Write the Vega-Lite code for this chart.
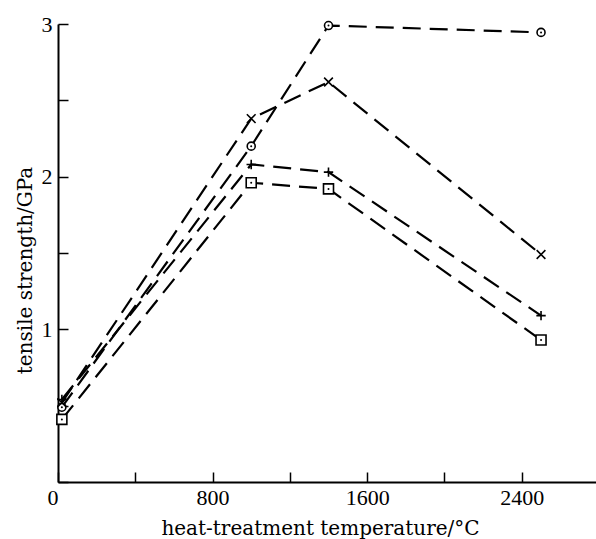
{
  "$schema": "https://vega.github.io/schema/vega-lite/v6.json",
  "autosize": "none",
  "padding": {"left": 58, "top": 24, "right": 0, "bottom": 57},
  "width": 541,
  "height": 458,
  "background": "white",
  "config": {
    "view": {"stroke": null},
    "font": "Liberation Serif",
    "axis": {
      "grid": false,
      "domainColor": "black",
      "domainWidth": 2,
      "tickColor": "black",
      "tickWidth": 1.5,
      "tickSize": -10,
      "labelFont": "Liberation Serif",
      "labelFontSize": 22,
      "labelColor": "black",
      "titleFont": "DejaVu Serif",
      "titleFontSize": 20,
      "titleFontWeight": "normal",
      "titleColor": "black"
    }
  },
  "data": {
    "values": [
      {"series": "circle", "T": 20, "S": 0.49},
      {"series": "circle", "T": 1000, "S": 2.2},
      {"series": "circle", "T": 1400, "S": 2.99},
      {"series": "circle", "T": 2500, "S": 2.945},
      {"series": "cross", "T": 20, "S": 0.52},
      {"series": "cross", "T": 1000, "S": 2.38},
      {"series": "cross", "T": 1400, "S": 2.62},
      {"series": "cross", "T": 2500, "S": 1.49},
      {"series": "plus", "T": 20, "S": 0.54},
      {"series": "plus", "T": 1000, "S": 2.08},
      {"series": "plus", "T": 1400, "S": 2.03},
      {"series": "plus", "T": 2500, "S": 1.09},
      {"series": "square", "T": 20, "S": 0.41},
      {"series": "square", "T": 1000, "S": 1.96},
      {"series": "square", "T": 1400, "S": 1.92},
      {"series": "square", "T": 2500, "S": 0.93}
    ]
  },
  "encoding": {
    "x": {
      "field": "T",
      "type": "quantitative",
      "scale": {"domain": [0, 2800], "nice": false, "zero": false},
      "axis": {
        "title": "heat-treatment temperature/°C",
        "values": [0, 400, 800, 1200, 1600, 2000, 2400],
        "format": "d",
        "labelExpr": "datum.value % 800 === 0 ? datum.label : ''",
        "labelPadding": 15,
        "labelAlign": {"condition": {"test": "datum.value === 0", "value": "right"}, "value": "center"},
        "titleX": 262,
        "titleY": 46,
        "titleBaseline": "middle",
        "titleAlign": "center"
      }
    },
    "y": {
      "field": "S",
      "type": "quantitative",
      "scale": {"domain": [0, 3], "nice": false},
      "axis": {
        "title": "tensile strength/GPa",
        "values": [0, 0.5, 1, 1.5, 2, 2.5, 3],
        "format": "~g",
        "labelExpr": "datum.value % 1 === 0 && datum.value > 0 ? datum.label : ''",
        "labelPadding": 16,
        "titleX": -33,
        "titleY": 246,
        "titleAngle": -90,
        "titleBaseline": "middle",
        "titleAlign": "center"
      }
    }
  },
  "layer": [
    {
      "mark": {"type": "line", "color": "black", "strokeWidth": 2.2, "strokeDash": [18, 9]},
      "encoding": {"detail": {"field": "series"}}
    },
    {
      "mark": {"type": "point", "filled": false, "fill": "white", "fillOpacity": 1, "stroke": "black", "strokeWidth": 1.6, "opacity": 1},
      "encoding": {
        "shape": {
          "field": "series",
          "type": "nominal",
          "scale": {
            "domain": ["circle", "cross", "plus", "square"],
            "range": ["circle", "M-1,-1L1,1M-1,1L1,-1", "M-1,0L1,0M0,-1L0,1", "square"]
          },
          "legend": null
        },
        "size": {
          "field": "series",
          "type": "nominal",
          "scale": {"domain": ["circle", "cross", "plus", "square"], "range": [64, 100, 100, 60]},
          "legend": null
        }
      }
    },
    {
      "transform": [{"filter": "datum.series === 'circle' || datum.series === 'square'"}],
      "mark": {"type": "point", "shape": "circle", "filled": true, "color": "black", "size": 4, "opacity": 1}
    }
  ]
}
